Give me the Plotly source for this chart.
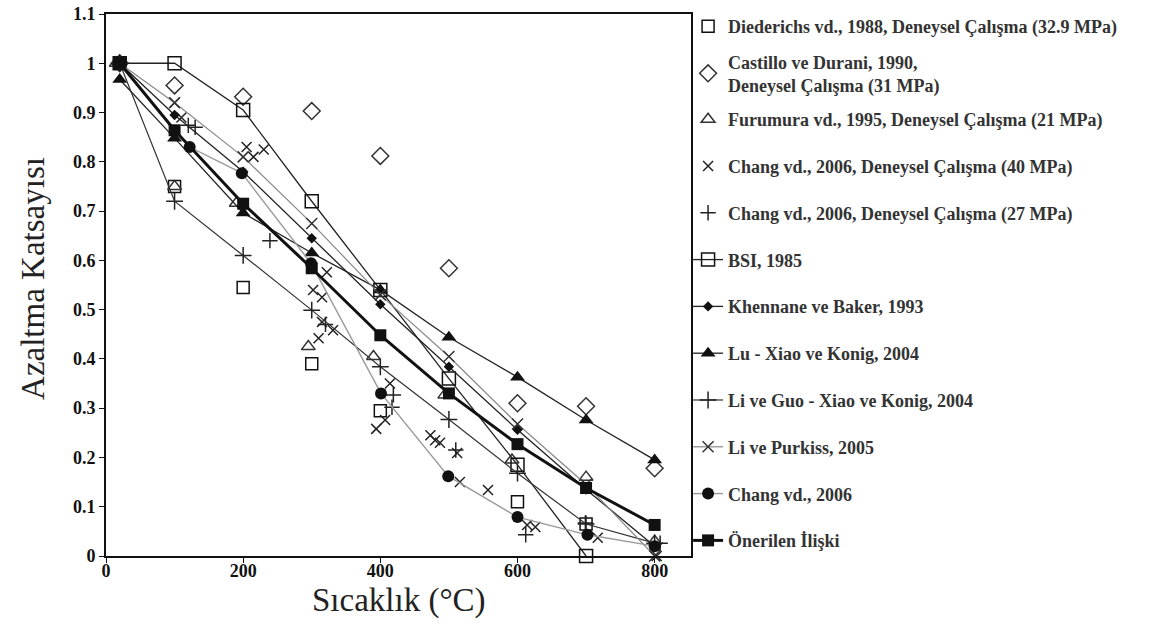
import plotly.graph_objects as go

# ---------------- data ----------------
diederichs_T = [20, 100, 200, 300, 400, 600, 700]
diederichs_v = [1.0, 0.75, 0.545, 0.39, 0.295, 0.11, 0.065]

castillo_T = [20, 100, 200, 300, 400, 500, 600, 700, 800]
castillo_v = [1.0, 0.955, 0.932, 0.903, 0.812, 0.584, 0.31, 0.304, 0.178]

furumura_T = [15, 100, 190, 295, 390, 494, 592, 700, 800]
furumura_v = [1.0, 0.75, 0.716, 0.425, 0.405, 0.327, 0.195, 0.16, 0.03]

chang40_T = [100, 110, 205, 215, 230, 302, 315, 322, 310, 331, 315, 394, 407, 414,
             473, 480, 487, 512, 516, 557, 614, 626, 717, 803]
chang40_v = [0.92, 0.89, 0.83, 0.81, 0.825, 0.54, 0.525, 0.576, 0.442, 0.458, 0.475, 0.258,
             0.276, 0.35, 0.245, 0.235, 0.23, 0.209, 0.15, 0.134, 0.063, 0.059, 0.037, 0.0]

chang27_T = [120, 130, 239, 320, 419, 417, 510, 612, 699, 808]
chang27_v = [0.874, 0.87, 0.64, 0.47, 0.327, 0.302, 0.215, 0.043, 0.067, 0.026]

bsi_T = [20, 100, 200, 300, 400, 500, 600, 700]
bsi_v = [1.0, 1.0, 0.905, 0.72, 0.54, 0.36, 0.185, 0.0]

khennane_T = [20, 100, 200, 300, 400, 500, 600, 700, 800]
khennane_v = [1.0, 0.895, 0.78, 0.645, 0.511, 0.384, 0.256, 0.135, 0.02]

lu_T = [20, 100, 200, 300, 400, 500, 600, 700, 800]
lu_v = [0.967, 0.848, 0.696, 0.615, 0.54, 0.444, 0.363, 0.276, 0.195]

liguo_T = [20, 100, 200, 300, 400, 500, 600, 700, 800]
liguo_v = [1.0, 0.72, 0.61, 0.499, 0.384, 0.277, 0.168, 0.065, 0.026]

lipurkiss_T = [20, 100, 200, 300, 400, 500, 600, 700, 800]
lipurkiss_v = [1.0, 0.92, 0.81, 0.675, 0.53, 0.405, 0.268, 0.145, 0.0]

chang06_T = [20, 122, 198, 299, 401, 499, 600, 702, 800]
chang06_v = [1.0, 0.83, 0.777, 0.594, 0.33, 0.162, 0.079, 0.043, 0.02]

oneri_T = [20, 100, 200, 300, 400, 500, 600, 700, 800]
oneri_v = [1.0, 0.864, 0.715, 0.584, 0.448, 0.33, 0.227, 0.138, 0.063]

names = [
    "Diederichs vd., 1988, Deneysel Çalışma (32.9 MPa)",
    "Castillo ve Durani, 1990,<br>Deneysel Çalışma (31 MPa)",
    "Furumura vd., 1995, Deneysel Çalışma (21 MPa)",
    "Chang vd., 2006, Deneysel Çalışma (40 MPa)",
    "Chang vd., 2006, Deneysel Çalışma (27 MPa)",
    "BSI, 1985",
    "Khennane ve Baker, 1993",
    "Lu - Xiao ve Konig, 2004",
    "Li ve Guo - Xiao ve Konig, 2004",
    "Li ve Purkiss, 2005",
    "Chang vd., 2006",
    "Önerilen İlişki",
]

x_title = "Sıcaklık (°C)"
y_title = "Azaltma Katsayısı"

x_ticks = [0, 200, 400, 600, 800]
y_ticks = [0, 0.1, 0.2, 0.3, 0.4, 0.5, 0.6, 0.7, 0.8, 0.9, 1.0, 1.1]
y_tick_labels = ["0", "0.1", "0.2", "0.3", "0.4", "0.5", "0.6", "0.7", "0.8", "0.9", "1", "1.1"]

# ---------------- figure ----------------
MK = "#111111"
series = [
    (diederichs_T, diederichs_v, "markers", dict(symbol="square-open", size=12, color=MK, line=dict(width=1.5)), None),
    (castillo_T, castillo_v, "markers", dict(symbol="diamond-open", size=13, color="#333", line=dict(width=1.5)), None),
    (furumura_T, furumura_v, "markers", dict(symbol="triangle-up-open", size=12, color="#333", line=dict(width=1.5)), None),
    (chang40_T, chang40_v, "markers", dict(symbol="x-thin-open", size=10, color="#222", line=dict(width=1.5, color="#222")), None),
    (chang27_T, chang27_v, "markers", dict(symbol="cross-thin-open", size=11, color="#222", line=dict(width=1.5, color="#222")), None),
    (bsi_T, bsi_v, "lines+markers", dict(symbol="square-open", size=13, color=MK, line=dict(width=1.5)), dict(color="#222", width=1.3)),
    (khennane_T, khennane_v, "lines+markers", dict(symbol="diamond", size=8, color=MK), dict(color="#222", width=1.3)),
    (lu_T, lu_v, "lines+markers", dict(symbol="triangle-up", size=13, color=MK), dict(color="#222", width=1.3)),
    (liguo_T, liguo_v, "lines+markers", dict(symbol="cross-thin-open", size=12, color="#222", line=dict(width=1.5, color="#222")), dict(color="#333", width=1.2)),
    (lipurkiss_T, lipurkiss_v, "lines+markers", dict(symbol="x-thin-open", size=11, color="#333", line=dict(width=1.5, color="#333")), dict(color="#888", width=1.2)),
    (chang06_T, chang06_v, "lines+markers", dict(symbol="circle", size=12, color=MK), dict(color="#999", width=1.4)),
    (oneri_T, oneri_v, "lines+markers", dict(symbol="square", size=12, color=MK), dict(color="#111", width=3)),
]

fig = go.Figure()
for i, (xs, ys, mode, mk, ln) in enumerate(series):
    kw = dict(x=xs, y=ys, mode=mode, name=names[i], marker=mk, legendgroup=f"g{i}",
              legend="legend" if i < 2 else "legend2",
              cliponaxis=False, hoverinfo="skip")
    if ln is not None:
        kw["line"] = ln
    fig.add_trace(go.Scatter(**kw))

LEG_FONT = dict(size=18, color="#333", family="Liberation Serif, Times New Roman, serif", weight="bold")

fig.update_layout(
    width=1150, height=639,
    margin=dict(l=106, r=459, t=14, b=83, autoexpand=False),
    paper_bgcolor="white", plot_bgcolor="white",
    font=dict(family="Liberation Serif, Times New Roman, serif", color="#111"),
    showlegend=True,
    legend=dict(
        x=0.995, xanchor="left", y=1.011, yanchor="top",
        font=LEG_FONT, traceorder="grouped", tracegroupgap=9,
        bgcolor="rgba(0,0,0,0)", borderwidth=0, itemwidth=30, maxheight=639,
    ),
    legend2=dict(
        x=0.995, xanchor="left", y=0.8395, yanchor="top",
        font=LEG_FONT, traceorder="grouped", tracegroupgap=20.4,
        bgcolor="rgba(0,0,0,0)", borderwidth=0, itemwidth=30, maxheight=639,
    ),
    xaxis=dict(
        range=[0, 853], tickvals=x_ticks, ticktext=[str(t) for t in x_ticks],
        showgrid=False, zeroline=False,
        showline=True, linecolor="#111", linewidth=2, mirror=True,
        ticks="outside", ticklen=5, tickcolor="#111", ticklabelstandoff=-8,
        tickfont=dict(size=18, family="Liberation Serif, serif", weight="bold", color="#111"),
    ),
    yaxis=dict(
        range=[0, 1.1], tickvals=y_ticks, ticktext=y_tick_labels,
        showgrid=False, zeroline=False,
        showline=True, linecolor="#111", linewidth=2, mirror=True,
        ticks="outside", ticklen=5, tickcolor="#111",
        tickfont=dict(size=18, family="Liberation Serif, serif", weight="bold", color="#111"),
    ),
    annotations=[
        dict(text=x_title, xref="paper", yref="paper", x=0.5, y=-0.083,
             xanchor="center", yanchor="middle", showarrow=False,
             font=dict(size=33, family="Liberation Serif, serif", color="#222")),
        dict(text=y_title, xref="paper", yref="paper", x=-0.1248, y=0.513,
             xanchor="center", yanchor="middle", showarrow=False, textangle=-90,
             font=dict(size=33, family="Liberation Serif, serif", color="#222")),
    ],
)

fig.write_html("out.html")
